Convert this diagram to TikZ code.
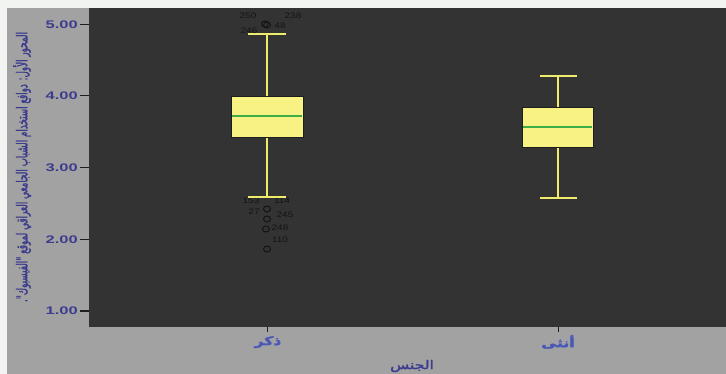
\documentclass[tikz,border=0pt]{standalone}
\usepackage{fontspec}
\usepackage{graphicx}
\setmainfont{Liberation Sans}
\newfontfamily\arabicfont[Script=Arabic,FakeBold=2]{DejaVu Sans}
\TeXXeTstate=1
\definecolor{outerbg}{HTML}{A2A2A2}
\definecolor{topband}{HTML}{F2F4F2}
\definecolor{plotbg}{HTML}{333333}
\definecolor{boxfill}{HTML}{F7F283}
\definecolor{boxedge}{HTML}{1E1E1E}
\definecolor{whiskcol}{HTML}{EEEC6A}
\definecolor{medcol}{HTML}{3DAE45}
\definecolor{outcol}{HTML}{141414}
\definecolor{axcol}{HTML}{3C3C8E}
\definecolor{catcol}{HTML}{4A58B8}
\definecolor{tickcol}{HTML}{1E1E1E}
\tikzset{
  whisk/.style={draw=whiskcol, line width=2.9pt},
  boxbody/.style={fill=boxfill, draw=boxedge, line width=0.9pt},
  medline/.style={draw=medcol, line width=2.4pt},
  outl/.style={draw=outcol, line width=1pt},
  outlab/.style={font=\fontsize{8}{8}\selectfont, text=outcol, inner sep=0pt},
  ticklab/.style={font=\bfseries\fontsize{11}{11}\selectfont, text=axcol, inner sep=0pt, anchor=east},
  tickmark/.style={draw=tickcol, line width=1pt},
  catlab/.style={font=\arabicfont\bfseries\fontsize{12}{12}\selectfont, text=catcol, inner sep=0pt},
}
\begin{document}
\begin{tikzpicture}[x=1pt,y=-1pt]
\useasboundingbox (0,0) rectangle (726,374);
% backgrounds
\fill[topband] (0,0) rectangle (726,374);
\fill[outerbg] (7,8) rectangle (726,374);
\fill[plotbg] (89,8) rectangle (726,327);
% y ticks and labels
\foreach \v/\yy in {5.00/25,4.00/96,3.00/168,2.00/240,1.00/311}{
  \draw[tickmark] (80,\yy) -- (89,\yy);
  \node[ticklab] (t\yy) at (78,\yy) {\scalebox{1.5}[1]{\v}};
}
% x ticks and labels
\draw[tickmark] (267,327) -- (267,332);
\draw[tickmark] (558,327) -- (558,332);
\node[catlab] (male) at (268,342) {\scalebox{1.3}[1]{\beginR ذكر\endR}};
\node[catlab] (female) at (558,342) {\scalebox{1.3}[1]{\beginR أنثى\endR}};
\node[font=\arabicfont\fontsize{12}{12}\selectfont, text=axcol, inner sep=0pt] (xlab) at (412,366) {\scalebox{1.3}[1]{\beginR الجنس\endR}};
% y axis label
\node[rotate=90, text=axcol, inner sep=0pt] (ylab) at (22,167) {\scalebox{1}[1.7]{\resizebox{270pt}{!}{\arabicfont\beginR المحور الأول: دوافع استخدام الشباب الجامعي العراقي لموقع "الفيسبوك".\endR}}};
% outlier labels (box 1)
\node[outlab] (l250) at (248,16) {\scalebox{1.25}[1]{250}};
\node[outlab] (l238) at (293,16) {\scalebox{1.25}[1]{238}};
\node[outlab] (l48) at (280,26) {\scalebox{1.25}[1]{48}};
\node[outlab] (l246) at (249,31) {\scalebox{1.25}[1]{246}};
\node[outlab] (l153) at (251,201) {\scalebox{1.25}[1]{153}};
\node[outlab] (l114) at (282,201) {\scalebox{1.25}[1]{114}};
\node[outlab] (l27) at (254,212) {\scalebox{1.25}[1]{27}};
\node[outlab] (l245) at (285,215) {\scalebox{1.25}[1]{245}};
\node[outlab] (l248) at (280,228) {\scalebox{1.25}[1]{248}};
\node[outlab] (l110) at (280,240) {\scalebox{1.25}[1]{110}};
% outlier circles
\draw[outl] (265,24) ellipse [x radius=3.5pt, y radius=3pt];
\draw[outl] (267,25) ellipse [x radius=3.5pt, y radius=3pt];
\draw[outl] (267,209) ellipse [x radius=3.5pt, y radius=3pt];
\draw[outl] (267,219) ellipse [x radius=3.5pt, y radius=3pt];
\draw[outl] (266,229) ellipse [x radius=3.5pt, y radius=3pt];
\draw[outl] (267,249) ellipse [x radius=3.5pt, y radius=3pt];
% box 1 (male)
\draw[whisk] (267,34) -- (267,96);
\draw[whisk] (248,34) -- (286,34);
\draw[whisk] (267,137) -- (267,197);
\draw[whisk] (248,197) -- (286,197);
\draw[boxbody] (231,96) rectangle (303,137);
\draw[medline] (232,116) -- (302,116);
% box 2 (female)
\draw[whisk] (558,76) -- (558,107);
\draw[whisk] (540,76) -- (577,76);
\draw[whisk] (558,147) -- (558,198);
\draw[whisk] (540,198) -- (577,198);
\draw[boxbody] (522,107) rectangle (593,147);
\draw[medline] (523,127) -- (592,127);
\end{tikzpicture}
\end{document}
